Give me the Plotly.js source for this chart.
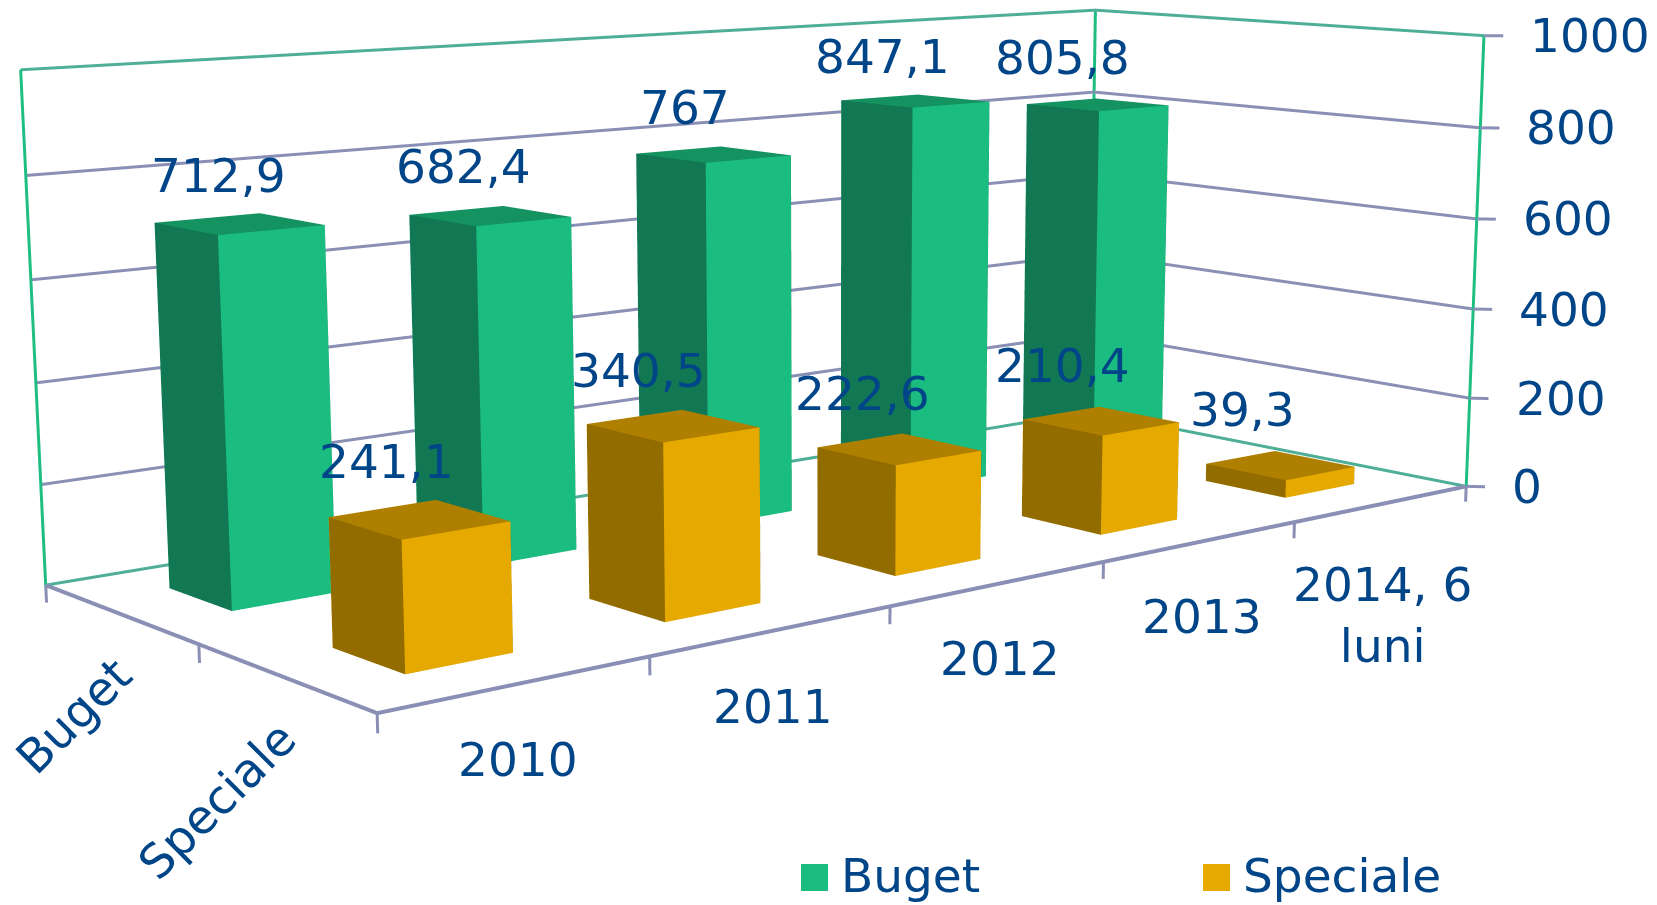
<!DOCTYPE html>
<html>
<head>
<meta charset="utf-8">
<script src="https://cdn.plot.ly/plotly-3.0.1.min.js"></script>
<style>
html,body{margin:0;padding:0;width:1657px;height:905px;overflow:hidden;background:#fff}
#chart{position:absolute;left:0;top:-886px;width:1657px;height:2677px}
</style>
</head>
<body>
<div id="chart"></div>
<script>
// ---- data ----
var categories = ['2010', '2011', '2012', '2013', '2014, 6<br>luni'];
var seriesNames = ['Buget', 'Speciale'];
var buget = [712.9, 682.4, 767, 847.1, 805.8];
var speciale = [241.1, 340.5, 222.6, 210.4, 39.3];
var bugetLabels = ['712,9', '682,4', '767', '847,1', '805,8'];
var specialeLabels = ['241,1', '340,5', '222,6', '210,4', '39,3'];
var zTicks = [0, 200, 400, 600, 800, 1000];

// ---- styles ----
var TEXT = '#004588', GRID = '#8A8FB5', WALL = '#1EBE82', EDGE = '#4FAE98';
var FONT = {family: '"DejaVu Sans", Verdana, sans-serif', size: 47, color: TEXT};
var faceColors = {
  Buget: {front: '#1ABC7F', side: '#127853', top: '#149360'},
  Speciale: {front: '#E5A900', side: '#936C00', top: '#AF8000'}
};
var H = 2677, TOP = -886;
var BARW = 0.4, nCat = categories.length, nSer = seriesNames.length;
var EX = 0.06, EY = 0.06, EZ = 40, TX = 0.05, TY = 0.05, TZ = 35;
var bugetDx = [-21, -27, -28, -33, -35], bugetDy = [48, 49, 47, 44, 47];
var specialeDx = [-33, -34, -37, -38, -38], specialeDy = [58, 55, 56, 55, 56];
var catDy = [-46, -46, -46, -46, -51];

function barsTrace(name, values, yCenter) {
  var xs = [], ys = [], zs = [], I = [], J = [], K = [], fc = [], c = faceColors[name];
  values.forEach(function (v, n) {
    var x0 = n + 0.5 - BARW / 2, x1 = n + 0.5 + BARW / 2;
    var y0 = yCenter - BARW / 2, y1 = yCenter + BARW / 2, b = xs.length;
    [[x0,y0,0],[x1,y0,0],[x1,y1,0],[x0,y1,0],[x0,y0,v],[x1,y0,v],[x1,y1,v],[x0,y1,v]].forEach(function (p) {
      xs.push(p[0]); ys.push(p[1]); zs.push(p[2]);
    });
    function quad(a, bb, cc, d, col) {
      I.push(b + a, b + a); J.push(b + bb, b + cc); K.push(b + cc, b + d); fc.push(col, col);
    }
    quad(0, 1, 5, 4, c.front);
    quad(2, 3, 7, 6, c.front);
    quad(3, 0, 4, 7, c.side);
    quad(1, 2, 6, 5, c.side);
    quad(4, 5, 6, 7, c.top);
    quad(0, 1, 2, 3, c.side);
  });
  return {type: 'mesh3d', name: name, x: xs, y: ys, z: zs, i: I, j: J, k: K, facecolor: fc,
    flatshading: true, hoverinfo: 'skip', showscale: false,
    lighting: {ambient: 1, diffuse: 0, specular: 0, roughness: 1, fresnel: 0}};
}

function lineTrace(segments, color, width) {
  var x = [], y = [], z = [];
  segments.forEach(function (s) {
    s.forEach(function (p) { x.push(p[0]); y.push(p[1]); z.push(p[2]); });
    x.push(null); y.push(null); z.push(null);
  });
  return {type: 'scatter3d', mode: 'lines', x: x, y: y, z: z, hoverinfo: 'skip', showlegend: false,
    connectgaps: false, line: {color: color, width: width}};
}

var zMax = zTicks[zTicks.length - 1];
var gridSegs = zTicks.slice(1, -1).map(function (z) { return [[0, nSer, z], [nCat, nSer, z], [nCat, 0, z]]; });
var tickSegs = zTicks.map(function (z) { return [[nCat, 0, z], [nCat + TX, -TY, z]]; });
categories.concat(['']).forEach(function (_, n) { tickSegs.push([[n, 0, 0], [n, 0, -TZ]]); });
[1, 2].forEach(function (n) { tickSegs.push([[0, n, 0], [0, n, -TZ]]); });
var wallSegs = [[[0, nSer, 0], [0, nSer, zMax]], [[nCat, nSer, 0], [nCat, nSer, zMax]], [[nCat, 0, 0], [nCat, 0, zMax]]];
var edgeSegs = [[[0, nSer, zMax], [nCat, nSer, zMax], [nCat, 0, zMax]], [[0, nSer, 0], [nCat, nSer, 0], [nCat, 0, 0]]];
var floorSegs = [[[0, nSer, 0], [0, 0, 0], [nCat, 0, 0]]];

var data = [
  lineTrace(gridSegs, GRID, 6),
  lineTrace(edgeSegs, EDGE, 6),
  lineTrace(wallSegs, WALL, 6),
  lineTrace(floorSegs, GRID, 8),
  lineTrace(tickSegs, GRID, 6),
  barsTrace('Buget', buget, 1.5),
  barsTrace('Speciale', speciale, 0.5)
];

var sceneAnn = [];
function add(o) {
  sceneAnn.push(Object.assign({showarrow: false, font: FONT}, o));
}
buget.forEach(function (v, n) {
  add({x: n + 0.5, y: 1.5, z: v, text: bugetLabels[n], xshift: bugetDx[n], yshift: bugetDy[n], xanchor: 'center', yanchor: 'middle'});
});
speciale.forEach(function (v, n) {
  add({x: n + 0.5, y: 0.5, z: v, text: specialeLabels[n], xshift: specialeDx[n], yshift: specialeDy[n], xanchor: 'center', yanchor: 'middle'});
});
zTicks.forEach(function (z) {
  add({x: nCat, y: 0, z: z, text: String(z), xshift: 44, yshift: 0, xanchor: 'left', yanchor: 'middle'});
});
categories.forEach(function (c, n) {
  add({x: n + 0.5, y: 0, z: 0, text: c, xshift: 0, yshift: catDy[n], xanchor: 'center', yanchor: 'top'});
});
seriesNames.forEach(function (s, n) {
  add({x: 0, y: n === 0 ? 1.5 : 0.5, z: 0, text: s, textangle: -45, xshift: 25, yshift: -31, xanchor: 'right', yanchor: 'top'});
});

function py(p) { return 1 - (p - TOP) / H; }
var W = 1657;
var legendX = [801, 1203], legendSw = 27;
var shapes = seriesNames.map(function (s, n) {
  return {type: 'rect', xref: 'paper', yref: 'paper', x0: legendX[n] / W, x1: (legendX[n] + legendSw) / W,
    y0: py(891), y1: py(864), fillcolor: faceColors[s].front, line: {width: 0}};
});
var annotations = seriesNames.map(function (s, n) {
  return {xref: 'paper', yref: 'paper', x: (legendX[n] + 38) / W, y: py(875), text: s, showarrow: false,
    xanchor: 'left', yanchor: 'middle', font: FONT};
});

function hidden(range) {
  return {visible: false, range: range, showgrid: false, zeroline: false, showline: false,
    showticklabels: false, showspikes: false, showbackground: false, title: {text: ''}};
}
var layout = {
  width: W, height: H, autosize: false, showlegend: false, hovermode: false,
  margin: {l: 0, r: 0, t: 0, b: 0, pad: 0},
  paper_bgcolor: '#fff', plot_bgcolor: '#fff',
  shapes: shapes, annotations: annotations,
  scene: {
    domain: {x: [0, 1], y: [0, 1]},
    bgcolor: '#fff',
    aspectmode: 'manual',
    aspectratio: {x: 2.9232, y: 1.2628, z: 1.08},
    camera: {
      projection: {type: 'perspective'},
      up: {x: 0, y: 0, z: 1},
      eye: {x: -4.2219, y: -5.0615, z: 0.9822},
      center: {x: -0.0021, y: -0.0809, z: -0.3172}
    },
    xaxis: hidden([-EX, nCat + EX]),
    yaxis: hidden([-EY, nSer + EY]),
    zaxis: hidden([-EZ, zMax + EZ]),
    annotations: sceneAnn
  }
};
Plotly.newPlot('chart', data, layout, {displayModeBar: false, responsive: false});
</script>
</body>
</html>
